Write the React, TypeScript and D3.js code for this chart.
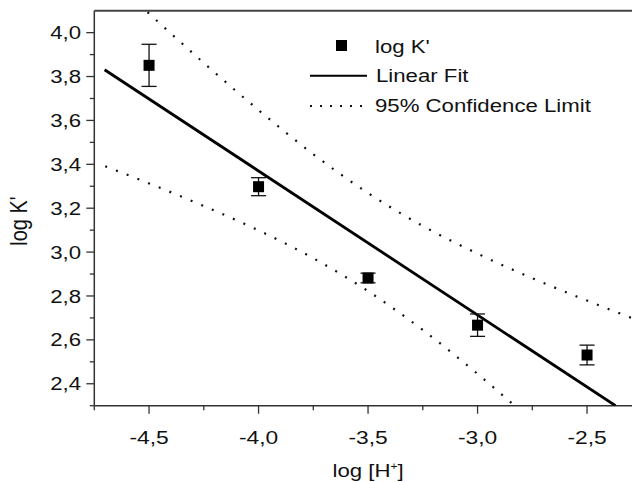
import React from "react";
import * as d3 from "d3";

const pointX = [-4.5, -4.0, -3.5, -3.0, -2.5];
const pointY = [3.851, 3.298, 2.882, 2.667, 2.531];
const pointErr = [0.096, 0.041, 0.022, 0.051, 0.045];

const fitX = [-4.703, -2.37];
const fitY = [3.831, 2.3];

const bandX = [-4.7, -4.5, -4.25, -4.0, -3.75, -3.5, -3.25, -3.0, -2.75, -2.5, -2.25];
const upperY = [4.271, 4.087, 3.862, 3.647, 3.446, 3.269, 3.119, 2.993, 2.881, 2.779, 2.682];
const lowerY = [3.391, 3.313, 3.21, 3.099, 2.972, 2.822, 2.645, 2.445, 2.229, 2.005, 1.774];

const xMajor = [-4.5, -4.0, -3.5, -3.0, -2.5];
const xMinor = [-4.75, -4.25, -3.75, -3.25, -2.75, -2.25];
const yMajor = [2.4, 2.6, 2.8, 3.0, 3.2, 3.4, 3.6, 3.8, 4.0];
const yMinor = [2.3, 2.5, 2.7, 2.9, 3.1, 3.3, 3.5, 3.7, 3.9];

const legendLabels = ["log K'", "Linear Fit", "95% Confidence Limit"];

const W = 632;
const H = 482;
const FONT = "'Liberation Sans', Arial, sans-serif";
const SX = 1.2;

const fmt = (v: number) => v.toFixed(1).replace(".", ",");

export default function App() {
  const x = d3.scaleLinear().domain([-4.75, -2.25]).range([94.3, 641.8]);
  const y = d3.scaleLinear().domain([2.3, 4.1]).range([405.7, 10.7]);
  const x0 = x.range()[0];
  const y0 = y.range()[0];
  const yTop = y.range()[1];

  const line = d3
    .line<[number, number]>()
    .x((d) => x(d[0]))
    .y((d) => y(d[1]))
    .curve(d3.curveMonotoneX);

  const fitData: [number, number][] = fitX.map((v, i) => [v, fitY[i]]);
  const upData: [number, number][] = bandX.map((v, i) => [v, upperY[i]]);
  const loData: [number, number][] = bandX.map((v, i) => [v, lowerY[i]]);

  const axisColor = "#333";
  const stretchText = (
    tx: number,
    ty: number,
    content: React.ReactNode,
    anchor: "start" | "middle" | "end",
    size = 18,
    key?: string
  ) => (
    <text
      key={key}
      transform={`translate(${tx},${ty}) scale(${SX},1)`}
      textAnchor={anchor}
      fontFamily={FONT}
      fontSize={size}
      fill="#111"
    >
      {content}
    </text>
  );

  return (
    <svg
      width={W}
      height={H}
      style={{ position: "absolute", left: 0, top: 0, background: "#fff" }}
    >
      <defs>
        <clipPath id="plotclip">
          <rect x={x0} y={yTop} width={W - x0} height={y0 - yTop} />
        </clipPath>
      </defs>
      <rect x={0} y={0} width={W} height={H} fill="#fff" />

      {/* frame */}
      <line x1={x0} x2={W} y1={yTop} y2={yTop} stroke="#444" strokeWidth={2} />
      <line x1={x0} x2={x0} y1={yTop} y2={y0} stroke={axisColor} strokeWidth={1.5} />
      <line x1={x0} x2={W} y1={y0} y2={y0} stroke={axisColor} strokeWidth={1.5} />

      {/* x ticks */}
      {xMajor.map((t) => (
        <line key={"xm" + t} x1={x(t)} x2={x(t)} y1={y0} y2={y0 + 8} stroke={axisColor} strokeWidth={1.3} />
      ))}
      {xMinor.map((t) => (
        <line key={"xn" + t} x1={x(t)} x2={x(t)} y1={y0} y2={y0 + 4.5} stroke={axisColor} strokeWidth={1.3} />
      ))}
      {xMajor.map((t) => stretchText(x(t), 443.5, fmt(t), "middle", 19, "xl" + t))}

      {/* y ticks */}
      {yMajor.map((t) => (
        <line key={"ym" + t} x1={x0 - 8} x2={x0} y1={y(t)} y2={y(t)} stroke={axisColor} strokeWidth={1.3} />
      ))}
      {yMinor.map((t) => (
        <line key={"yn" + t} x1={x0 - 4.5} x2={x0} y1={y(t)} y2={y(t)} stroke={axisColor} strokeWidth={1.3} />
      ))}
      {yMajor.map((t) => stretchText(81, y(t) + 6.6, fmt(t), "end", 18.5, "yl" + t))}

      {/* axis titles */}
      {stretchText(
        332.5,
        477,
        <>
          log [H<tspan dy={-7} fontSize={10}>+</tspan>
          <tspan dy={7}>]</tspan>
        </>,
        "start",
        18.5,
        "xt"
      )}
      <text
        transform={`translate(27,221) rotate(-90) scale(1,1.2)`}
        textAnchor="middle"
        fontFamily={FONT}
        fontSize={20}
        fill="#111"
      >
        log K'
      </text>

      {/* plot content */}
      <g clipPath="url(#plotclip)">
        <path d={line(upData) || ""} fill="none" stroke="#111" strokeWidth={2.2} strokeDasharray="2 9.5" />
        <path d={line(loData) || ""} fill="none" stroke="#111" strokeWidth={2.2} strokeDasharray="2 9.5" />
        <path d={line(fitData) || ""} fill="none" stroke="#000" strokeWidth={2.8} />
      </g>

      {/* error bars and points */}
      {pointX.map((px, i) => {
        const cx = x(px);
        const cy = y(pointY[i]);
        const top = y(pointY[i] + pointErr[i]);
        const bot = y(pointY[i] - pointErr[i]);
        return (
          <g key={"p" + i}>
            <line x1={cx} x2={cx} y1={top} y2={bot} stroke="#111" strokeWidth={1.3} />
            <line x1={cx - 7.5} x2={cx + 7.5} y1={top} y2={top} stroke="#111" strokeWidth={1.3} />
            <line x1={cx - 7.5} x2={cx + 7.5} y1={bot} y2={bot} stroke="#111" strokeWidth={1.3} />
            <rect x={cx - 5.5} y={cy - 5.5} width={11} height={11} fill="#000" />
          </g>
        );
      })}

      {/* legend */}
      <rect x={336} y={40} width={11} height={11} fill="#000" />
      {stretchText(375, 52.5, legendLabels[0], "start", 18.5, "lg0")}
      <line x1={310} x2={367} y1={75.7} y2={75.7} stroke="#000" strokeWidth={2} />
      {stretchText(376, 82, legendLabels[1], "start", 18.5, "lg1")}
      <line x1={310} x2={367} y1={106} y2={106} stroke="#111" strokeWidth={2} strokeDasharray="2 8" />
      {stretchText(375, 111.5, legendLabels[2], "start", 18.5, "lg2")}
    </svg>
  );
}
